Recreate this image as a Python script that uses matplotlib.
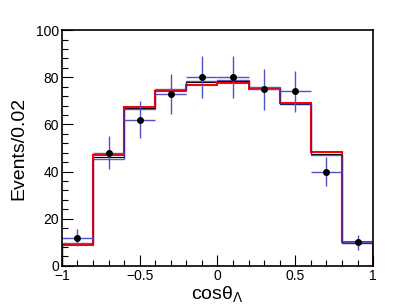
"""
cos(theta_Lambda) 分布：数据点与拟合直方图对比
"""

import matplotlib.pyplot as plt
import numpy as np

plt.rcParams["font.family"] = ["Liberation Sans", "DejaVu Sans"]
plt.rcParams["mathtext.fontset"] = "custom"
plt.rcParams["mathtext.rm"] = "Liberation Sans"
plt.rcParams["mathtext.it"] = "Liberation Sans"

# 数据
bin_edges = [-1.0, -0.8, -0.6, -0.4, -0.2, 0.0, 0.2, 0.4, 0.6, 0.8, 1.0]
bin_centers = [-0.9, -0.7, -0.5, -0.3, -0.1, 0.1, 0.3, 0.5, 0.7, 0.9]
data_counts = [12, 48, 62, 73, 80, 80, 75, 74, 40, 10]
data_errors = [3.5, 6.9, 7.9, 8.5, 8.9, 8.9, 8.7, 8.6, 6.3, 3.2]

hist_red = [9.0, 47.0, 67.3, 74.2, 76.7, 77.4, 75.0, 68.9, 48.4, 10.0]
hist_blue = [9.5, 45.3, 66.5, 75.0, 78.5, 79.0, 75.7, 68.6, 47.0, 9.5]
hist_black = [9.2, 46.2, 67.0, 74.6, 78.0, 78.6, 75.3, 68.8, 47.6, 9.7]


def main():
    fig = plt.figure(figsize=(4.15, 3.07), dpi=100)
    ax = fig.add_axes([0.149, 0.134, 0.750, 0.768])

    ax.stairs(hist_black, bin_edges, color="black", linewidth=0.8, baseline=0)
    ax.stairs(hist_red, bin_edges, color="#ff0000", linewidth=1.5, baseline=0)
    ax.stairs(hist_blue, bin_edges, color="#2828a8", linewidth=1.0, alpha=0.75, baseline=0)

    xerr = np.full(len(bin_centers), 0.1)
    ax.errorbar(
        bin_centers, data_counts, xerr=xerr, yerr=data_errors,
        fmt="o", color="black", markersize=4,
        ecolor="#5050c8", elinewidth=1.0, capsize=0,
    )

    ax.set_xlim(-1, 1)
    ax.set_ylim(0, 100)
    ax.set_xticks([-1, -0.5, 0, 0.5, 1])
    ax.set_xticklabels(["\u22121", "\u22120.5", "0", "0.5", "1"])
    ax.set_xticks(np.arange(-1, 1.01, 0.1), minor=True)
    ax.set_yticks([0, 20, 40, 60, 80, 100])
    ax.set_yticks(np.arange(0, 101, 4), minor=True)
    ax.tick_params(which="both", direction="in", labelsize=10, top=False, right=False)
    ax.tick_params(which="major", length=8, width=0.8, pad=2)
    ax.tick_params(which="minor", length=4, width=0.8)

    for spine in ax.spines.values():
        spine.set_linewidth(1.2)

    ax.set_ylabel("Events/0.02", fontsize=14)
    ax.yaxis.set_label_coords(-0.112, 0.5)
    ax.set_xlabel(r"$\mathrm{cos\theta_{\Lambda}}$", fontsize=14)
    ax.xaxis.set_label_coords(0.5, -0.075)

    fig.savefig("out.png", dpi=100)
    plt.close(fig)


if __name__ == "__main__":
    main()
